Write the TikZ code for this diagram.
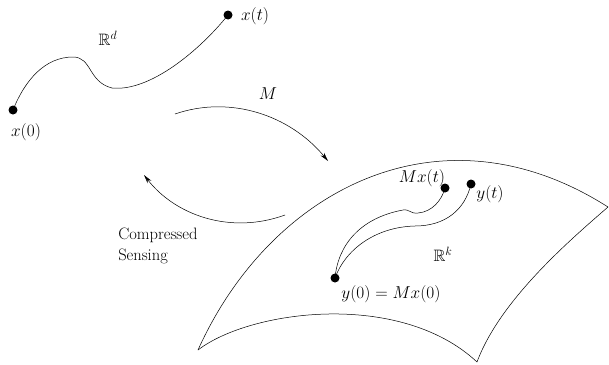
\documentclass[tikz,border=0pt]{standalone}
\usepackage{amssymb}
\usetikzlibrary{arrows.meta}
\begin{document}
\begin{tikzpicture}[x=1pt,y=-1pt,line width=0.5pt,
  dot/.style={circle,fill=black,inner sep=0pt,minimum size=9pt},
  lbl/.style={font=\fontsize{16.5}{21}\selectfont,inner sep=0pt},
  arr/.style={-{Stealth[length=9pt,width=4.5pt]}}]
\useasboundingbox (0,0) rectangle (609,364);
% R^d trajectory
\node[dot] (x0) at (13,110) {};
\node[dot] (xt) at (228,15) {};
\draw (x0.center) .. controls (25,80) and (45,57) .. (73,57)
  .. controls (92,57) and (88,82) .. (112,88)
  .. controls (150,92) and (200,50) .. (xt.center);
\node[lbl] (lx0) at (26,132) {$x(0)$};
\node[lbl] (lxt) at (255,16) {$x(t)$};
\node[lbl] (lrd) at (108,38) {$\mathbb{R}^d$};
% arrows
\coordinate (m1) at (175,114);
\coordinate (m2) at (328,161);
\draw[arr] (m1) .. controls (230,95) and (290,115) .. (m2);
\node[lbl] (lm) at (268,94) {$M$};
\coordinate (c1) at (285,215);
\coordinate (c2) at (144,175);
\draw[arr] (c1) .. controls (230,235) and (175,215) .. (c2);
\node[lbl,align=left,anchor=north west] (lcs) at (118,228) {Compressed\\Sensing};
% surface
\coordinate (A) at (198,350);
\coordinate (B) at (608,207);
\coordinate (C) at (477,362);
\draw (A) .. controls (270,190) and (440,100) .. (B);
\draw (A) .. controls (250,310) and (400,290) .. (C);
\draw (B) .. controls (570,240) and (500,300) .. (C);
% R^k trajectories
\node[dot] (y0) at (335,278) {};
\node[dot] (mxt) at (445,188) {};
\node[dot] (yt) at (471,184) {};
\draw (y0.center) .. controls (338,245) and (360,218) .. (403,210)
  .. controls (410,209) and (410,214) .. (418,213)
  .. controls (432,212) and (442,200) .. (mxt.center);
\draw (y0.center) .. controls (345,250) and (375,227) .. (415,226)
  .. controls (445,226) and (465,210) .. (yt.center);
\node[lbl] (lmxt) at (422,178) {$Mx(t)$};
\node[lbl] (lyt) at (490,194) {$y(t)$};
\node[lbl] (ly0) at (391,294) {$y(0)=Mx(0)$};
\node[lbl] (lrk) at (443,254) {$\mathbb{R}^k$};
\end{tikzpicture}
\end{document}
